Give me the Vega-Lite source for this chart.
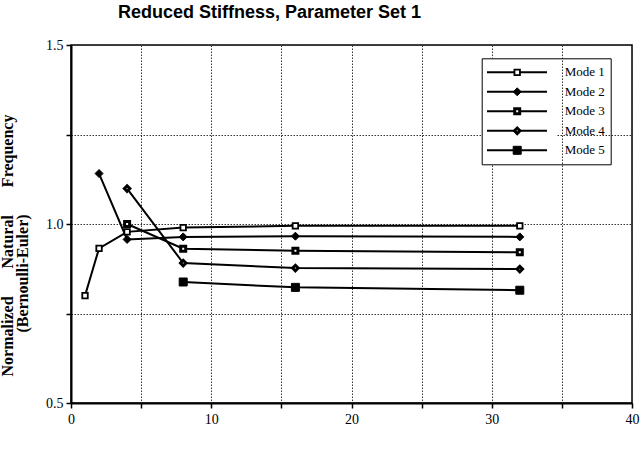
{
  "$schema": "https://vega.github.io/schema/vega-lite/v6.json",
  "width": 561,
  "height": 358,
  "autosize": {"type": "none"},
  "padding": {"left": 71, "top": 45, "right": 11, "bottom": 48},
  "background": "white",
  "title": {
    "text": "Reduced Stiffness, Parameter Set 1",
    "anchor": "start",
    "frame": "group",
    "font": "Liberation Sans",
    "fontSize": 18,
    "fontWeight": "bold",
    "color": "black",
    "dx": 47,
    "dy": 20,
    "offset": 22,
    "baseline": "alphabetic"
  },
  "config": {
    "view": {"stroke": "black", "strokeWidth": 1.5},
    "axis": {
      "domainColor": "black",
      "domainWidth": 2,
      "tickColor": "black",
      "tickWidth": 1.5,
      "tickSize": 5,
      "labelFont": "Liberation Serif",
      "labelFontSize": 14,
      "labelColor": "black",
      "gridColor": "#333333",
      "gridDash": [1.5, 1.5],
      "gridWidth": 1,
      "titleColor": "black",
      "labelOverlap": false,
      "labelFlush": false
    }
  },
  "data": {
    "values": [
      {"Mode": "Mode 1", "n": 1, "freq": 0.80},
      {"Mode": "Mode 1", "n": 2, "freq": 0.932},
      {"Mode": "Mode 1", "n": 4, "freq": 0.978},
      {"Mode": "Mode 1", "n": 8, "freq": 0.990},
      {"Mode": "Mode 1", "n": 16, "freq": 0.995},
      {"Mode": "Mode 1", "n": 32, "freq": 0.995},
      {"Mode": "Mode 2", "n": 2, "freq": 1.141},
      {"Mode": "Mode 2", "n": 4, "freq": 0.957},
      {"Mode": "Mode 2", "n": 8, "freq": 0.964},
      {"Mode": "Mode 2", "n": 16, "freq": 0.966},
      {"Mode": "Mode 2", "n": 32, "freq": 0.964},
      {"Mode": "Mode 3", "n": 4, "freq": 1.0},
      {"Mode": "Mode 3", "n": 8, "freq": 0.931},
      {"Mode": "Mode 3", "n": 16, "freq": 0.925},
      {"Mode": "Mode 3", "n": 32, "freq": 0.921},
      {"Mode": "Mode 4", "n": 4, "freq": 1.099},
      {"Mode": "Mode 4", "n": 8, "freq": 0.891},
      {"Mode": "Mode 4", "n": 16, "freq": 0.877},
      {"Mode": "Mode 4", "n": 32, "freq": 0.874},
      {"Mode": "Mode 5", "n": 8, "freq": 0.838},
      {"Mode": "Mode 5", "n": 16, "freq": 0.823},
      {"Mode": "Mode 5", "n": 32, "freq": 0.815}
    ]
  },
  "encoding": {
    "x": {
      "field": "n",
      "type": "quantitative",
      "scale": {"domain": [0, 40], "nice": false},
      "axis": {
        "values": [0, 5, 10, 15, 20, 25, 30, 35, 40],
        "labelExpr": "datum.value % 10 === 0 ? datum.label : ''",
        "title": null,
        "labelPadding": 4
      }
    },
    "y": {
      "field": "freq",
      "type": "quantitative",
      "scale": {"domain": [0.5, 1.5], "nice": false, "zero": false},
      "axis": {
        "values": [0.5, 0.75, 1, 1.25, 1.5],
        "labelExpr": "(datum.value * 2) % 1 === 0 ? format(datum.value, '.1f') : ''",
        "labelPadding": 3,
        "title": ["Normalized\u00a0\u00a0\u00a0\u00a0\u00a0\u00a0\u00a0Natural\u00a0\u00a0\u00a0\u00a0\u00a0\u00a0\u00a0Frequency", "(Bernoulli-Euler)\u00a0\u00a0\u00a0\u00a0\u00a0\u00a0\u00a0\u00a0\u00a0\u00a0\u00a0\u00a0\u00a0\u00a0\u200b"],
        "titleFont": "Liberation Serif",
        "titleFontSize": 16,
        "titleFontWeight": "bold",
        "titleAngle": -90,
        "titleX": -58.5,
        "titleY": 200,
        "titleAlign": "center",
        "titleBaseline": "alphabetic",
        "titleLineHeight": 15
      }
    }
  },
  "layer": [
    {
      "mark": {"type": "line", "strokeWidth": 2},
      "encoding": {
        "color": {
          "field": "Mode",
          "type": "nominal",
          "scale": {"range": ["black", "black", "black", "black", "black"]},
          "legend": {
            "orient": "none",
            "legendX": 410,
            "legendY": 13.3,
            "direction": "vertical",
            "title": null,
            "symbolType": "stroke",
            "symbolSize": 3600,
            "symbolStrokeWidth": 2,
            "labelExpr": "''",
            "labelFontSize": 13,
            "padding": 5,
            "clipHeight": 18,
            "rowPadding": 1.5,
            "fillColor": "white"
          }
        }
      }
    },
    {
      "mark": {"type": "point", "filled": true, "stroke": "black", "opacity": 1},
      "encoding": {
        "shape": {
          "field": "Mode",
          "type": "nominal",
          "scale": {"domain": ["Mode 1", "Mode 2", "Mode 3", "Mode 4", "Mode 5"], "range": ["square", "diamond", "square", "diamond", "square"]},
          "legend": {
            "orient": "none", "legendX": 410.7, "legendY": 13.3, "direction": "vertical", "title": null,
            "padding": 5, "clipHeight": 18, "rowPadding": 1.5, "strokeColor": "black",
            "symbolOffset": 24, "labelOffset": 41, "labelFont": "Liberation Serif", "labelFontSize": 13,
            "labelColor": "black", "symbolStrokeColor": "black", "symbolOpacity": 1,
            "labelExpr": "datum.label + '\u00a0\u00a0'",
            "encode": {"symbols": {"update": {"stroke": {"value": "black"}}}}
          }
        },
        "fill": {
          "field": "Mode",
          "type": "nominal",
          "scale": {"domain": ["Mode 1", "Mode 2", "Mode 3", "Mode 4", "Mode 5"], "range": ["white", "black", "white", "white", "black"]},
          "legend": {
            "orient": "none", "legendX": 410.7, "legendY": 13.3, "direction": "vertical", "title": null,
            "padding": 5, "clipHeight": 18, "rowPadding": 1.5, "strokeColor": "black",
            "symbolOffset": 24, "labelOffset": 41, "labelFont": "Liberation Serif", "labelFontSize": 13,
            "labelColor": "black", "symbolStrokeColor": "black", "symbolOpacity": 1,
            "labelExpr": "datum.label + '\u00a0\u00a0'",
            "encode": {"symbols": {"update": {"stroke": {"value": "black"}}}}
          }
        },
        "size": {
          "field": "Mode",
          "type": "nominal",
          "scale": {"type": "ordinal", "domain": ["Mode 1", "Mode 2", "Mode 3", "Mode 4", "Mode 5"], "range": [30, 64, 25, 30, 64]},
          "legend": {
            "orient": "none", "legendX": 410.7, "legendY": 13.3, "direction": "vertical", "title": null,
            "padding": 5, "clipHeight": 18, "rowPadding": 1.5, "strokeColor": "black",
            "symbolOffset": 24, "labelOffset": 41, "labelFont": "Liberation Serif", "labelFontSize": 13,
            "labelColor": "black", "symbolStrokeColor": "black", "symbolOpacity": 1,
            "labelExpr": "datum.label + '\u00a0\u00a0'",
            "encode": {"symbols": {"update": {"stroke": {"value": "black"}}}}
          }
        },
        "strokeWidth": {
          "field": "Mode",
          "type": "nominal",
          "scale": {"type": "ordinal", "domain": ["Mode 1", "Mode 2", "Mode 3", "Mode 4", "Mode 5"], "range": [1.8, 1, 3, 3, 1]},
          "legend": {
            "orient": "none", "legendX": 410.7, "legendY": 13.3, "direction": "vertical", "title": null,
            "padding": 5, "clipHeight": 18, "rowPadding": 1.5, "strokeColor": "black",
            "symbolOffset": 24, "labelOffset": 41, "labelFont": "Liberation Serif", "labelFontSize": 13,
            "labelColor": "black", "symbolStrokeColor": "black", "symbolOpacity": 1,
            "labelExpr": "datum.label + '\u00a0\u00a0'",
            "encode": {"symbols": {"update": {"stroke": {"value": "black"}}}}
          }
        }
      }
    }
  ]
}
